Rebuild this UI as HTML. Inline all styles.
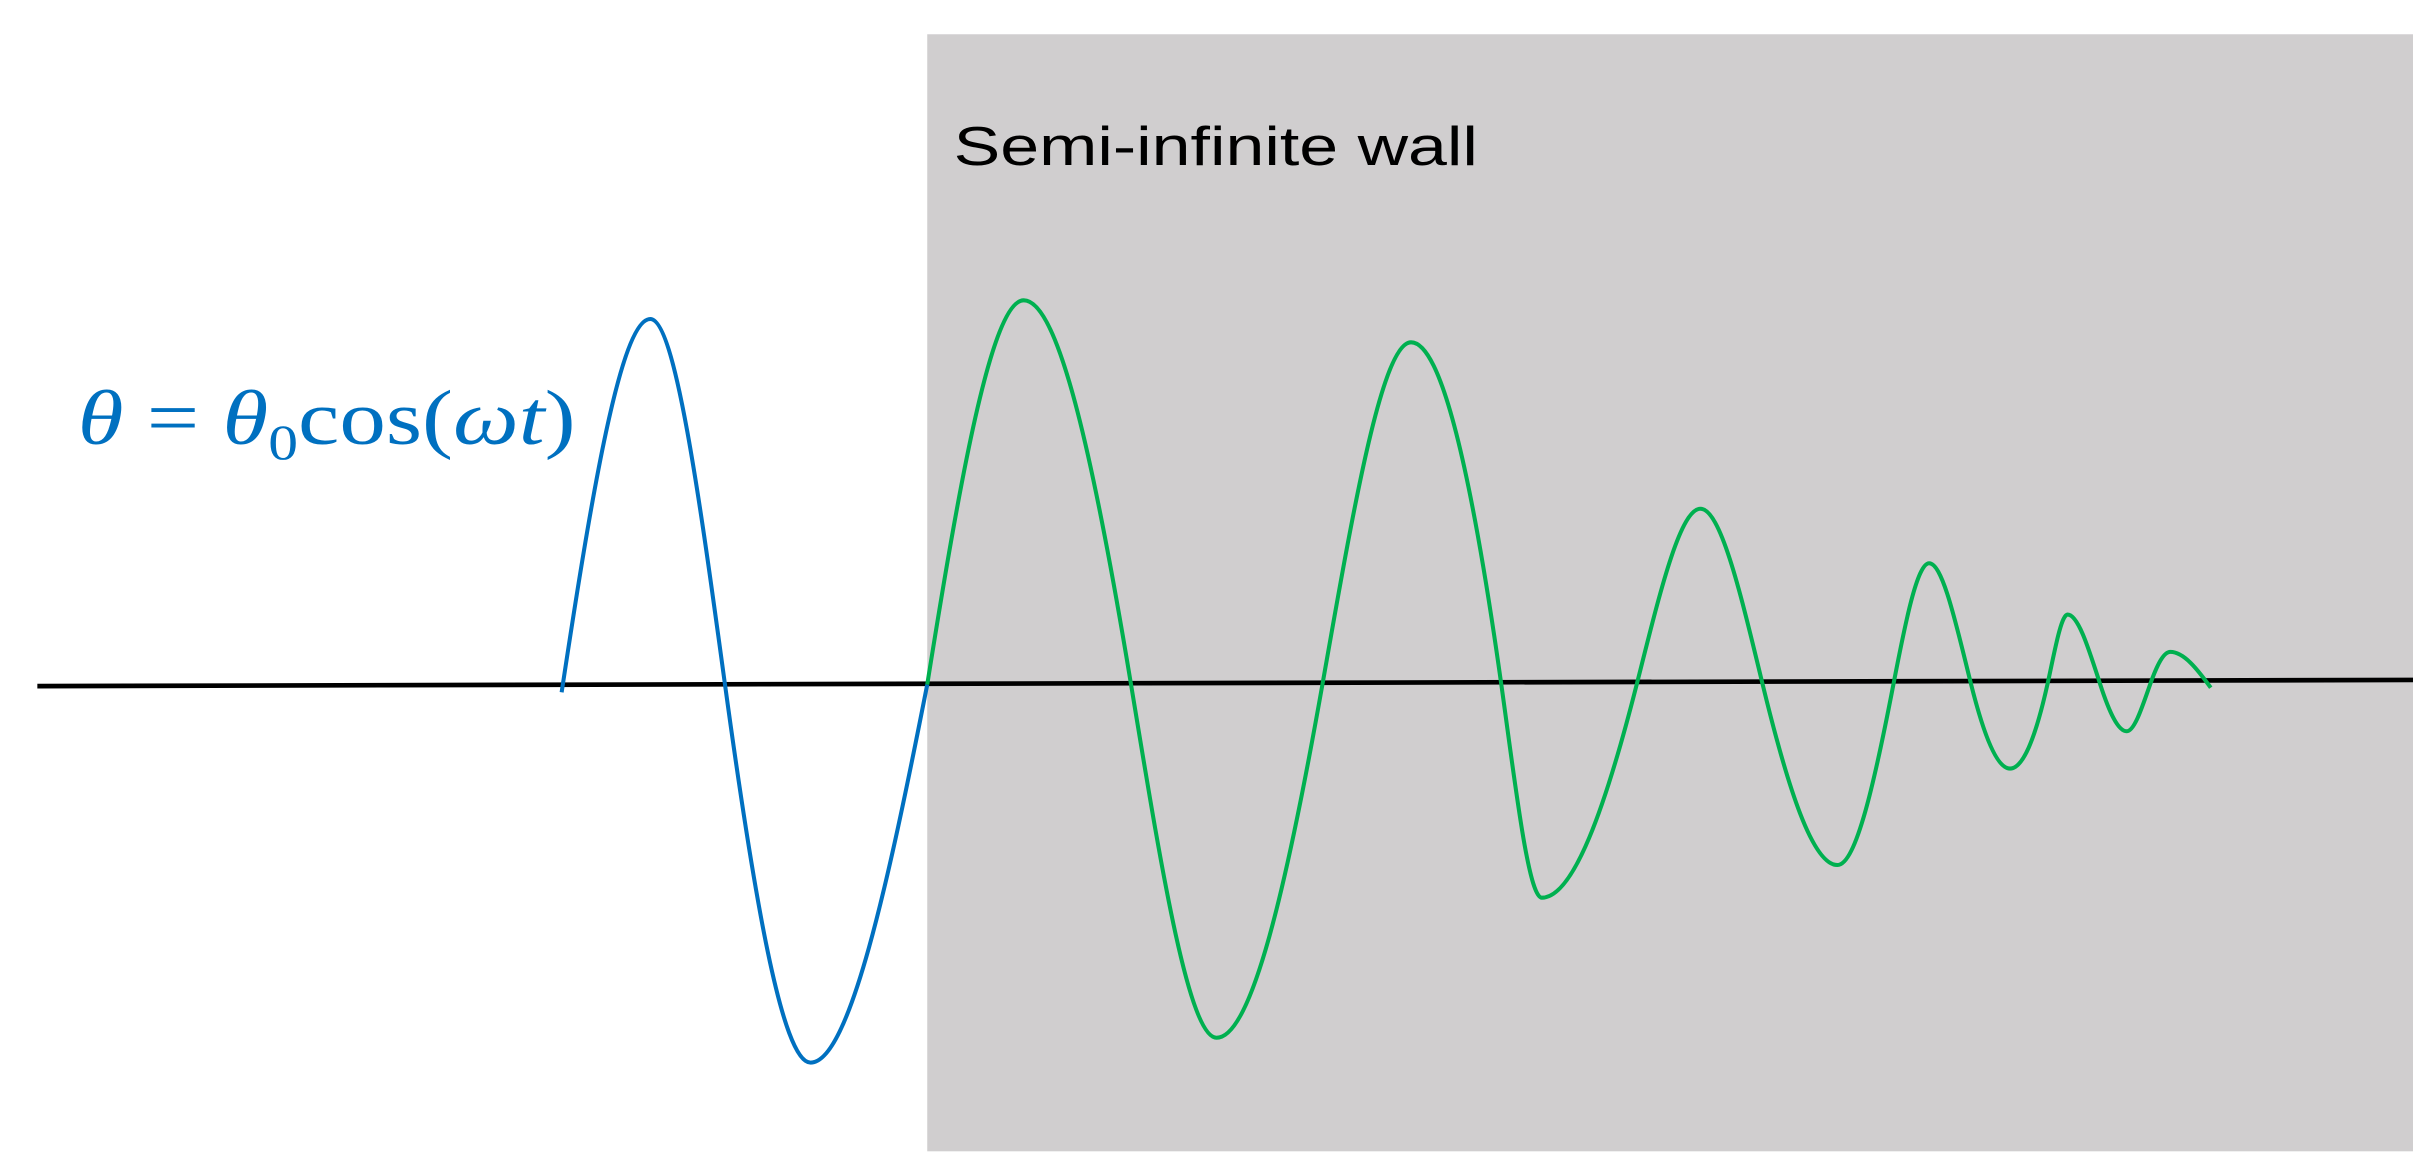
<!DOCTYPE html>
<html><head><meta charset="utf-8"><style>
html,body{margin:0;padding:0;background:#fff;}
svg{display:block;}
</style></head><body>
<svg id="s" width="2427" height="1170" viewBox="0 0 1560 752" xmlns="http://www.w3.org/2000/svg">
<rect x="596" y="22" width="955" height="718" fill="#d0cecf"/>
<text x="613" y="106" font-family="Liberation Sans, sans-serif" font-size="35" fill="#000" textLength="337" lengthAdjust="spacingAndGlyphs">Semi-infinite wall</text>
<text x="50" y="285" font-family="Liberation Serif, serif" font-size="50" fill="#0070c0" textLength="320" lengthAdjust="spacingAndGlyphs"><tspan font-style="italic">θ</tspan> = <tspan font-style="italic">θ</tspan><tspan font-size="32" dy="10">0</tspan><tspan dy="-10">cos(</tspan><tspan font-style="italic">ωt</tspan>)</text>
<line x1="24" y1="441" x2="1551" y2="437" stroke="#000" stroke-width="3"/>
<path id="blue" fill="none" stroke="#0070c0" stroke-width="2.6"/>
<path id="green" fill="none" stroke="#00b050" stroke-width="2.6"/>
</svg>
<script>
function build(pts, startExt){
  var n=pts.length, m=[];
  for(var i=0;i<n;i++){
    var isExt=((i%2==1)!==!!startExt);
    if(isExt){m.push(0);continue;}
    var s=[];
    if(i>0)s.push((Math.PI/2)*(pts[i][1]-pts[i-1][1])/(pts[i][0]-pts[i-1][0]));
    if(i<n-1)s.push((Math.PI/2)*(pts[i+1][1]-pts[i][1])/(pts[i+1][0]-pts[i][0]));
    var v=s.reduce(function(a,b){return a+b;},0)/s.length;
    m.push(v);
  }
  var d="M"+pts[0][0]+","+pts[0][1];
  for(var i=0;i<n-1;i++){
    var a=pts[i],b=pts[i+1],h=b[0]-a[0];
    var c1x=a[0]+h/3,c1y=a[1]+m[i]*h/3,c2x=b[0]-h/3,c2y=b[1]-m[i+1]*h/3;
    d+=" C"+c1x.toFixed(2)+","+c1y.toFixed(2)+" "+c2x.toFixed(2)+","+c2y.toFixed(2)+" "+b[0]+","+b[1];
  }
  return d;
}
document.getElementById('blue').setAttribute('d',build([[361,445],[418,205],[466,440],[521,683],[596,440]]));
document.getElementById('green').setAttribute('d',build([[596,440],[658,193],[727,440],[782,667],[850,440],[907,220],[965,440],[991,577],[1052,440],[1093,327],[1133,440],[1181,556],[1217,440],[1240,362],[1267,440],[1292,494],[1316,440],[1329,395],[1350,440],[1367,470],[1382,440],[1395,419],[1421,442]]));
</script>
</body></html>
